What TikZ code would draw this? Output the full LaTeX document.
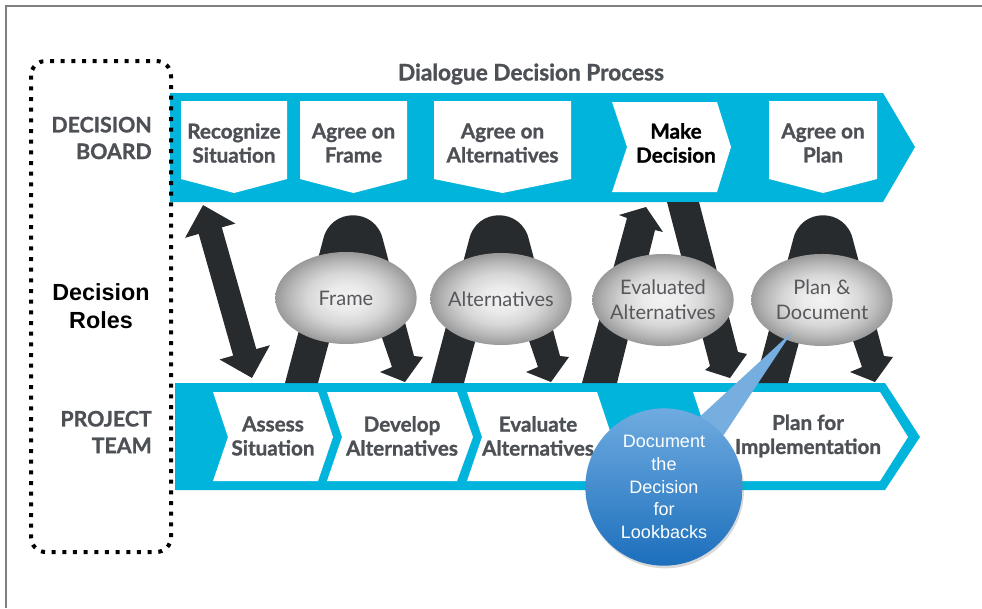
\documentclass[tikz,border=0pt]{standalone}
\usepackage{fontspec}
\newfontfamily\latofont{Lato}[BoldFeatures={FakeBold=1.2}]
\newfontfamily\arialfont{Liberation Sans}
\usetikzlibrary{shapes.geometric, calc, arrows.meta, shadows}
\definecolor{bandcyan}{HTML}{00B4DC}
\definecolor{arrowdark}{HTML}{272B2E}
\definecolor{labelgray}{HTML}{4D5055}
\definecolor{ovaltext}{HTML}{56585B}
\definecolor{calltop}{HTML}{6FABE0}
\definecolor{callbot}{HTML}{1C6FBC}
\definecolor{ptrblue}{HTML}{76AEE0}
\pgfdeclareradialshading{ovalshade}{\pgfpoint{0bp}{0bp}}{color(0bp)=(white!95!black); color(7bp)=(white!92!black); color(14bp)=(white!84!black); color(20bp)=(white!72!black); color(25bp)=(white!60!black); color(50bp)=(white!60!black)}

\begin{document}
\begin{tikzpicture}[x=0.75pt, y=-0.75pt,
    boardtext/.style={font=\latofont\bfseries\fontsize{15.5}{18}\selectfont, text=labelgray, align=center},
    roletext/.style={font=\latofont\bfseries\fontsize{16}{20}\selectfont, text=labelgray, align=right, anchor=east, inner sep=0pt},
    oval/.style={ellipse, shading=ovalshade, minimum width=106pt, minimum height=69pt, inner sep=0pt},
    ovallabel/.style={font=\latofont\fontsize{15}{19}\selectfont, text=ovaltext, align=center},
    callout/.style={circle, minimum size=118pt, inner sep=0pt, top color=calltop, bottom color=callbot, drop shadow={opacity=0.3, shadow xshift=1pt, shadow yshift=-2pt}, font=\arialfont\fontsize{13.5}{17}\selectfont, text=white, align=center}]

    \useasboundingbox (0,0) rectangle (982,608);
    \draw[gray, line width=1.5pt] (6,608) -- (6,6) -- (982,6);

    \node[boardtext, font=\latofont\bfseries\fontsize{17}{20}\selectfont] (title) at (531,74) {Dialogue Decision Process};

    \fill[bandcyan] (170,93) -- (883,93) -- (915,147) -- (883,202) -- (170,202) -- cycle;
    \fill[bandcyan] (175,383) -- (885,383) -- (920,437) -- (885,490) -- (175,490) -- cycle;

    \foreach \l/\r/\txt [count=\i] in {181/287/{Recognize\\Situation}, 300/407/{Agree on\\Frame}, 434/571/{Agree on\\Alternatives}, 769/877/{Agree on\\Plan}} {
        \fill[white] (\l,101) -- (\r,101) -- (\r,179) -- ({(\l+\r)/2},193) -- (\l,179) -- cycle;
        \node[boardtext] (board\i) at ({(\l+\r)/2},143) {\txt};
    }
    \fill[white] (612,102) -- (717,102) -- (731,147) -- (717,192) -- (612,192) -- (627,147) -- cycle;
    \node[boardtext, text=black] (decide) at (676,143) {Make\\Decision};

    \foreach \l/\r/\t/\c/\txt [count=\i] in {213/318/15/273/{Assess\\Situation}, 327/457/16/402/{Develop\\Alternatives}, 467/597/15/538/{Evaluate\\Alternatives}, 693/880/28/808/{Plan for\\Implementation}} {
        \fill[white] (\l,392) -- (\r,392) -- (\r+\t,437) -- (\r,481) -- (\l,481) -- (\l+15,437) -- cycle;
        \node[boardtext] (team\i) at (\c,436) {\txt};
    }

    \node[roletext] (board) at (152,138) {DECISION\\BOARD};
    \node[font=\arialfont\bfseries\fontsize{17.5}{20.5}\selectfont, align=center] (roles) at (101,306) {Decision\\Roles};
    \node[roletext] (team) at (152,432) {PROJECT\\TEAM};
    \draw[line width=3pt, dash pattern=on 3pt off 5pt, rounded corners=11pt] (31,61) rectangle (171,552);

    \coordinate (dtop) at (203,205);
    \coordinate (dbot) at (252,378);
    \draw[arrowdark, line width=18pt, {Triangle[width=38pt,length=20pt]}-{Triangle[width=38pt,length=20pt]}] (dtop) -- (dbot);

    \foreach \a in {352,498,822}
        \fill[arrowdark, shift={(\a,0)}] (-67,383) -- (-29,240) .. controls (-22,207) and (24,207) .. (31,240) -- (62,356) -- (71,357) -- (53,382) -- (28,372) -- (40,367) -- (1,253) -- (-34,383) -- cycle;
    \fill[arrowdark] (582,383) -- (627,218) -- (619,215) -- (646,207) -- (663,232) -- (655,230) -- (617,383) -- cycle;
    \fill[arrowdark] (667,202) -- (699,202) -- (738,352) -- (747,354) -- (730,378) -- (705,370) -- (710,366) -- cycle;

    \node[oval, label={[ovallabel]center:Frame}] (frame) at (346,298) {};
    \node[oval, label={[ovallabel]center:Alternatives}] (alts) at (501,299) {};
    \node[oval, label={[ovallabel]center:{Evaluated\\Alternatives}}] (evalalts) at (663,300) {};
    \node[oval, label={[ovallabel]center:{Plan \&\\Document}}] (plandoc) at (822,300) {};

    \path node[circle, minimum size=118pt, inner sep=0pt] (docbase) at (664,487) {};
    \coordinate (docptr) at (792,332);
    \fill[ptrblue] (docbase.63) -- (docptr) -- (docbase.41) -- cycle;
    \node[callout] (doc) at (docbase) {Document\\the\\Decision\\for\\Lookbacks};

\end{tikzpicture}
\end{document}
